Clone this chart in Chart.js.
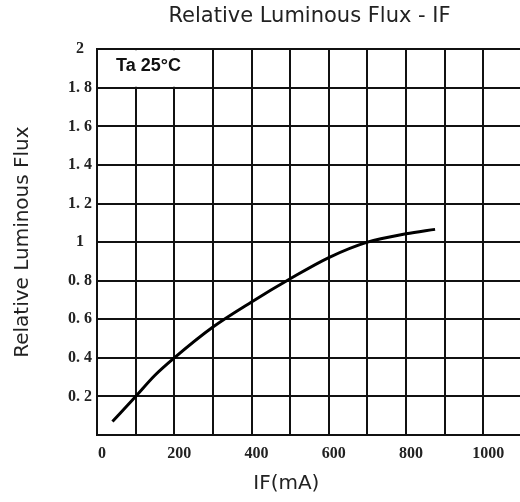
<!DOCTYPE html>
<html>
  <head>
    <title>Relative Luminous Flux - IF</title>
    <script src="https://cdn.jsdelivr.net/npm/chart.js"></script>
    <style>
      html, body { margin: 0; padding: 0; background: #fff; overflow: hidden; }
      /* wider than the window: the grid runs off the right edge like the original */
      .chart-container { width: 531px; height: 502px; position: relative; }
    </style>
  </head>
  <body>
    <div class="chart-container">
      <canvas id="flux-chart"></canvas>
    </div>

    <script>
      // forward current (mA) and relative flux
      const currentMA = [40, 100, 150, 200, 300, 400, 500, 600, 700, 800, 875];
      const relFlux = [0.07, 0.2, 0.31, 0.4, 0.56, 0.69, 0.81, 0.92, 1.0, 1.043, 1.066];

      const xTickLabels = ['0', '200', '400', '600', '800', '1000'];
      const yTickValues = [0.2, 0.4, 0.6, 0.8, 1, 1.2, 1.4, 1.6, 1.8, 2];
      const yTickLabels = ['0. 2', '0. 4', '0. 6', '0. 8', '1', '1. 2', '1. 4', '1. 6', '1. 8', '2'];

      const gridColor = '#111';
      const tickFont = { family: 'Liberation Serif', size: 16, weight: 'bold' };

      // white label box in the top-left cell, plus the x title
      const notes = {
        id: 'notes',
        beforeDatasetsDraw(chart) {
          const x = chart.scales.x, y = chart.scales.y, ctx = chart.ctx;
          const l = x.getPixelForValue(0), r = x.getPixelForValue(300);
          const t = y.getPixelForValue(2), b = y.getPixelForValue(1.8);
          ctx.save();
          ctx.fillStyle = '#fff';
          ctx.fillRect(l + 1, t + 1, r - l - 2, b - t - 2);
          ctx.fillStyle = '#111';
          ctx.font = 'bold 18px "Liberation Sans"';
          ctx.textBaseline = 'middle';
          ctx.fillText('Ta 25°C', l + 19, (t + b) / 2 - 2);
          ctx.restore();
        },
        afterDraw(chart) {
          const ctx = chart.ctx;
          ctx.save();
          ctx.fillStyle = '#222';
          ctx.font = '20px "DejaVu Sans"';
          ctx.textAlign = 'center';
          ctx.textBaseline = 'middle';
          ctx.fillText('IF(mA)', chart.scales.x.getPixelForValue(490), chart.height - 18);
          ctx.restore();
        }
      };

      new Chart(document.getElementById('flux-chart'), {
        type: 'line',
        data: {
          datasets: [{
            data: currentMA.map((v, i) => ({ x: v, y: relFlux[i] })),
            borderColor: '#000',
            borderWidth: 3,
            pointRadius: 0,
            fill: false,
            cubicInterpolationMode: 'monotone'
          }]
        },
        options: {
          responsive: true,
          maintainAspectRatio: false,
          animation: false,
          layout: { padding: 0 },
          plugins: {
            legend: { display: false },
            tooltip: { enabled: false },
            title: {
              display: true,
              text: 'Relative Luminous Flux - IF',
              fullSize: false,
              color: '#222',
              font: { family: 'DejaVu Sans', size: 21, weight: 'normal' },
              padding: { top: 4, bottom: 20 }
            }
          },
          scales: {
            x: {
              type: 'linear',
              min: 0,
              max: 1100,
              afterFit(scale) { scale.height = 67; },
              grid: { color: gridColor, lineWidth: 2, drawTicks: false },
              border: { color: gridColor, width: 2 },
              ticks: {
                stepSize: 100,
                autoSkip: false,
                maxRotation: 0,
                padding: 9,
                labelOffset: 5,
                color: '#222',
                font: tickFont,
                callback: (v) => xTickLabels.includes(String(v)) ? String(v) : ''
              }
            },
            y: {
              min: 0,
              max: 2,
              afterFit(scale) { scale.width = 97; },
              grid: { color: gridColor, lineWidth: 2, drawTicks: false },
              border: { color: gridColor, width: 2 },
              title: {
                display: true,
                text: 'Relative Luminous Flux',
                color: '#222',
                font: { family: 'DejaVu Sans', size: 20, weight: 'normal' },
                padding: { top: 11, bottom: 0 }
              },
              ticks: {
                stepSize: 0.2,
                crossAlign: 'center',
                padding: 5,
                color: '#222',
                font: tickFont,
                callback: (v) => {
                  const i = yTickValues.findIndex(t => Math.abs(t - v) < 1e-6);
                  return i < 0 ? '' : yTickLabels[i];
                }
              }
            }
          }
        },
        plugins: [notes]
      });
    </script>
  </body>
</html>
